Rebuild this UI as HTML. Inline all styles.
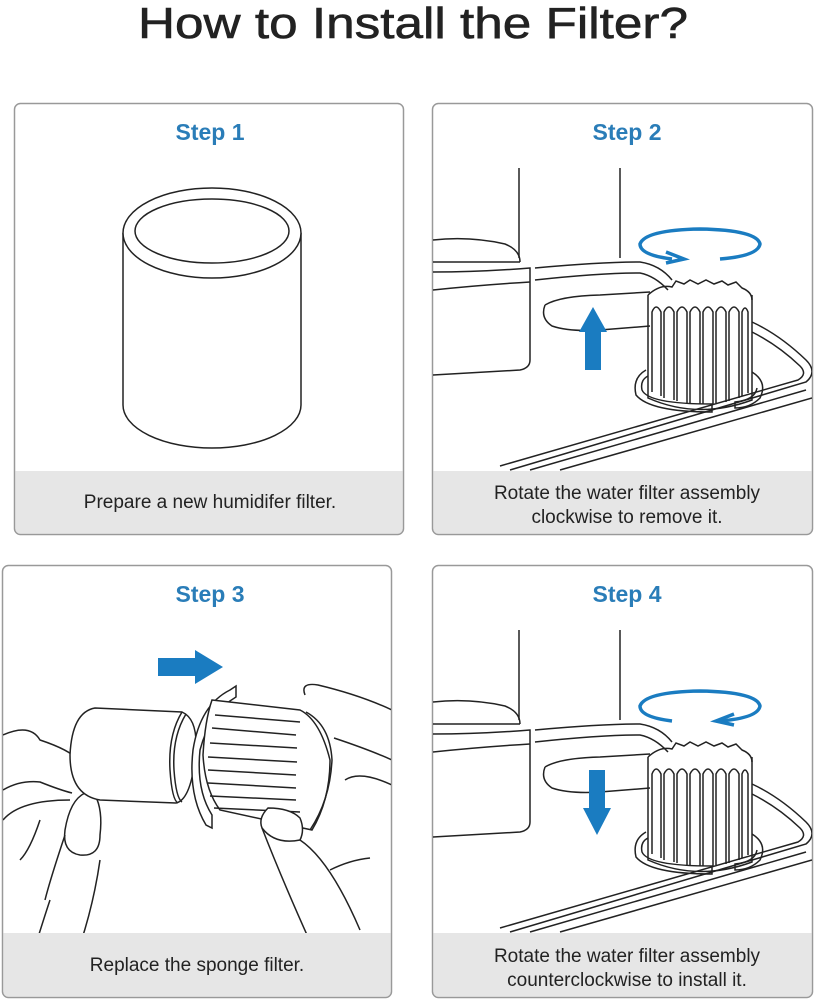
<!DOCTYPE html>
<html><head><meta charset="utf-8"><style>
html,body{margin:0;padding:0;background:#fff;}
svg{display:block;}
text{font-family:"Liberation Sans",sans-serif;}
</style></head><body>
<svg width="826" height="1000" viewBox="0 0 826 1000" xmlns="http://www.w3.org/2000/svg">
<defs>
<clipPath id="c2"><rect x="433" y="104" width="379" height="430" rx="6"/></clipPath>
<clipPath id="c3"><rect x="3" y="566" width="388" height="431" rx="6"/></clipPath>
<clipPath id="c4"><rect x="433" y="566" width="379" height="431" rx="6"/></clipPath>
<g id="machine" fill="none" stroke="#222" stroke-width="1.5">
  <line x1="519" y1="168" x2="519" y2="258"/>
  <line x1="620" y1="168" x2="620" y2="258"/>
  <path d="M433 240 Q470 236 505 244 Q520 250 520 262"/>
  <path d="M433 262 Q480 262 520 262"/>
  <path d="M433 272 Q480 272 530 268 L530 360 Q530 368 520 370 L433 375"/>
  <path d="M433 290 Q480 285 530 282"/>
  <path d="M535 268 Q600 262 640 262 Q660 265 672 280"/>
  <path d="M535 280 Q600 273 640 273 Q655 276 668 290"/>
  <path d="M545 305 Q540 318 552 326 Q570 332 600 330 L650 326"/>
  <path d="M545 305 Q560 296 600 295 L650 292"/>
  <path d="M648 295 L648 398 Q698 420 752 400 L752 295"/>
  <path d="M648 295 Q660 284 672 287 L676 281 L684 284 L690 280 L698 284 L706 280 L714 284 L722 281 L728 285 L736 282 L742 288 Q752 292 752 300"/>
  <path d="M652 392 L652 312 Q656 302 661 312 L661 396 M664 398 L664 312 Q669 302 674 312 L674 400 M677 401 L677 312 Q682 302 687 312 L687 403 M690 404 L690 312 Q695 302 700 312 L700 404 M703 404 L703 312 Q708 302 713 312 L713 404 M716 403 L716 312 Q721 302 726 312 L726 402 M729 401 L729 312 Q734 302 739 312 L739 398 M742 396 L742 312 Q745 304 748 312 L748 393"/>
  <path d="M646 370 Q632 378 636 395 Q650 412 712 412 L712 404 Q648 404 642 390 Q640 380 648 376"/>
  <path d="M752 372 Q768 382 760 398 Q750 408 735 408 L735 402 Q755 400 757 388"/>
  <path d="M752 322 Q780 335 806 360 Q818 372 806 382 L510 470"/>
  <path d="M752 332 Q778 345 800 366 Q808 374 798 380 L500 466"/>
  <path d="M806 390 L530 470"/>
  <path d="M812 398 L560 470"/>
</g>
</defs>

<text x="413" y="38" text-anchor="middle" font-size="44" textLength="550" lengthAdjust="spacingAndGlyphs" fill="#222" stroke="#222" stroke-width="0.6">How to Install the Filter?</text>

<rect x="14.5" y="103.5" width="389" height="431" rx="6" fill="#fff" stroke="#999" stroke-width="1.5"/>
<path d="M15.5 471 H402.5 V528 Q402.5 533.5 397 533.5 H21 Q15.5 533.5 15.5 528 Z" fill="#e6e6e6"/>
<text x="210" y="140" text-anchor="middle" font-size="23" fill="#2a7db8" font-weight="bold">Step 1</text>
<text x="210" y="508" text-anchor="middle" font-size="19" fill="#222">Prepare a new humidifer filter.</text>
<g fill="none" stroke="#222" stroke-width="1.5">
  <path d="M123 233 L123 405 A89 43 0 0 0 301 405 L301 233"/>
  <ellipse cx="212" cy="233" rx="89" ry="45" fill="#fff"/>
  <ellipse cx="212" cy="231" rx="77" ry="32"/>
</g>

<rect x="432.5" y="103.5" width="380" height="431" rx="6" fill="#fff" stroke="#999" stroke-width="1.5"/>
<g clip-path="url(#c2)"><use href="#machine"/></g>
<path d="M433.5 471 H811.5 V528 Q811.5 533.5 806 533.5 H439 Q433.5 533.5 433.5 528 Z" fill="#e6e6e6"/>
<text x="627" y="140" text-anchor="middle" font-size="23" fill="#2a7db8" font-weight="bold">Step 2</text>
<text x="627" y="499" text-anchor="middle" font-size="19" fill="#222">Rotate the water filter assembly</text>
<text x="627" y="523" text-anchor="middle" font-size="19" fill="#222">clockwise to remove it.</text>
<g fill="none" stroke="#1a7cc1" stroke-width="3.5">
  <path d="M672 259 Q640 255 640 244 Q645 230 700 229 Q757 230 760 244 Q758 256 720 259"/>
  <path d="M666 252 L684 259 L666 263"/>
</g>
<polygon points="585,370 601,370 601,332 607,332 593,307 579,332 585,332" fill="#1a7cc1"/>

<rect x="2.5" y="565.5" width="389" height="432" rx="6" fill="#fff" stroke="#999" stroke-width="1.5"/>
<text x="210" y="602" text-anchor="middle" font-size="23" fill="#2a7db8" font-weight="bold">Step 3</text>
<g clip-path="url(#c3)" fill="none" stroke="#222" stroke-width="1.5">
  <path d="M3 735 Q30 723 40 740 Q70 750 78 760"/>
  <path d="M3 790 Q20 780 40 782 Q60 790 72 793"/>
  <path d="M3 820 Q20 800 70 800"/>
  <path d="M20 996 Q40 930 50 900"/>
  <path d="M85 793 Q70 800 65 830 Q62 852 80 855 Q100 857 100 835 Q103 810 95 795 Z"/>
  <path d="M65 835 Q50 880 45 900"/>
  <path d="M60 996 Q90 930 100 860"/>
  <path d="M40 820 Q30 850 20 860"/>
  <path d="M95 708 L182 712 Q200 720 195 760 Q190 800 176 803 L100 800 Q70 795 70 755 Q72 712 95 708 Z" fill="#fff"/>
  <path d="M182 712 Q168 735 170 770 Q172 800 178 803"/>
  <path d="M186 714 Q172 737 174 770 Q176 798 182 802"/>
  <path d="M230 690 L236 686 L236 697 Q210 712 200 750 Q196 790 212 815 L212 828 L206 825 Q188 795 193 750 Q200 705 230 690 Z" fill="#fff"/>
  <path d="M212 700 L300 710 Q320 720 330 760 Q330 800 312 830 L220 810 Q205 790 203 755 Q205 720 212 700 Z" fill="#fff"/>
  <path d="M215 715 L300 722 M212 728 L296 735 M210 743 L297 748 M208 757 L297 762 M208 770 L296 775 M208 783 L296 788 M210 796 L296 800 M214 808 L300 812"/>
  <path d="M306 712 Q330 725 332 760 Q330 800 310 830"/>
  <path d="M305 695 Q300 682 318 685 Q360 695 392 710"/>
  <path d="M334 738 Q370 750 392 760"/>
  <path d="M345 780 Q360 770 392 785"/>
  <path d="M268 808 Q258 818 262 828 Q275 845 300 840 Q305 830 300 818 Q290 808 268 808 Z" fill="#fff"/>
  <path d="M262 828 Q290 900 335 996"/>
  <path d="M300 840 Q330 860 360 930"/>
  <path d="M330 870 Q350 860 370 858"/>
</g>
<polygon points="158,658 195,658 195,650 223,667 195,684 195,676 158,676" fill="#1a7cc1"/>
<path d="M3.5 933 H390.5 V991 Q390.5 996.5 385 996.5 H9 Q3.5 996.5 3.5 991 Z" fill="#e6e6e6"/>
<text x="197" y="971" text-anchor="middle" font-size="19" fill="#222">Replace the sponge filter.</text>

<rect x="432.5" y="565.5" width="380" height="432" rx="6" fill="#fff" stroke="#999" stroke-width="1.5"/>
<g clip-path="url(#c4)"><use href="#machine" transform="translate(0,462)"/></g>
<path d="M433.5 933 H811.5 V991 Q811.5 996.5 806 996.5 H439 Q433.5 996.5 433.5 991 Z" fill="#e6e6e6"/>
<text x="627" y="602" text-anchor="middle" font-size="23" fill="#2a7db8" font-weight="bold">Step 4</text>
<text x="627" y="962" text-anchor="middle" font-size="19" fill="#222">Rotate the water filter assembly</text>
<text x="627" y="986" text-anchor="middle" font-size="19" fill="#222">counterclockwise to install it.</text>
<g fill="none" stroke="#1a7cc1" stroke-width="3.5">
  <path d="M672 721 Q640 717 640 706 Q645 692 700 691 Q757 692 760 706 Q758 718 720 721"/>
  <path d="M734 714 L716 721 L734 725"/>
</g>
<polygon points="589,770 605,770 605,808 611,808 597,835 583,808 589,808" fill="#1a7cc1"/>
</svg>
</body></html>
